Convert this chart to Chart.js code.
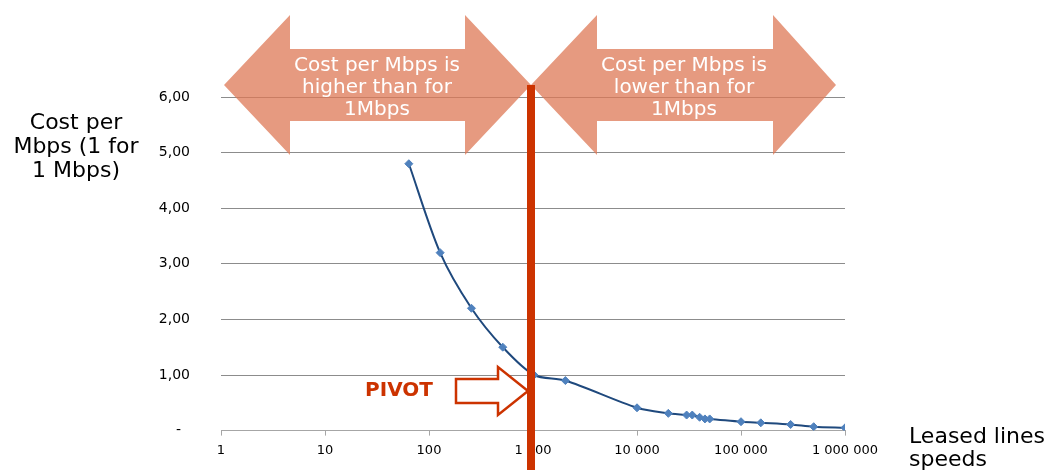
<!DOCTYPE html>
<html><head><meta charset="utf-8">
<script src="https://cdn.jsdelivr.net/npm/chart.js@4.4.1/dist/chart.umd.min.js"></script>
<style>html,body{margin:0;padding:0;background:#fff;} #wrap{position:relative;width:1050px;height:470px;}</style>
</head><body><div id="wrap"><canvas id="c"></canvas></div>
<script>
const speeds = [64, 128, 256, 512, 1024, 2048, 10000, 20000, 30000, 34000, 40000, 45000, 50000, 100000, 155000, 300000, 500000, 1000000];
const costs  = [4.80, 3.20, 2.20, 1.50, 1.00, 0.90, 0.41, 0.31, 0.28, 0.28, 0.24, 0.21, 0.21, 0.16, 0.14, 0.11, 0.07, 0.05];
const xTickValues = [1, 10, 100, 1000, 10000, 100000, 1000000];
const xTickLabels = ["1", "10", "100", "1 000", "10 000", "100 000", "1 000 000"];
const yTickValues = [0, 1, 2, 3, 4, 5, 6];
const yTickLabels = ["-  ", "1,00", "2,00", "3,00", "4,00", "5,00", "6,00"];
const yTitle = ["Cost per", "Mbps (1 for", "1 Mbps)"];
const xTitle = ["Leased lines", "speeds"];
const leftArrowText = ["Cost per Mbps is", "higher than for", "1Mbps"];
const rightArrowText = ["Cost per Mbps is", "lower than for", "1Mbps"];
const pivotSpeed = 1000;
const pivotLabel = "PIVOT";

const FONT = '"DejaVu Sans", Verdana, sans-serif';
const RED = '#CC3300';

function doubleArrow(ctx, x0, x1, yc, headL, headR, shaftHalf, headHalf) {
  ctx.beginPath();
  ctx.moveTo(x0, yc);
  ctx.lineTo(x0 + headL, yc - headHalf);
  ctx.lineTo(x0 + headL, yc - shaftHalf);
  ctx.lineTo(x1 - headR, yc - shaftHalf);
  ctx.lineTo(x1 - headR, yc - headHalf);
  ctx.lineTo(x1, yc);
  ctx.lineTo(x1 - headR, yc + headHalf);
  ctx.lineTo(x1 - headR, yc + shaftHalf);
  ctx.lineTo(x0 + headL, yc + shaftHalf);
  ctx.lineTo(x0 + headL, yc + headHalf);
  ctx.closePath();
}

const overlay = {
  id: 'overlay',
  beforeDatasetsDraw(chart) {
    const ctx = chart.ctx;
    const px = chart.scales.x.getPixelForValue(pivotSpeed) - 2;
    const yc = 85;
    ctx.save();
    ctx.fillStyle = 'rgba(222,120,85,0.75)';
    doubleArrow(ctx, px - 307, px, yc, 66, 66, 36, 70);
    ctx.fill();
    doubleArrow(ctx, px, px + 305, yc, 66, 63, 36, 70);
    ctx.fill();
    ctx.fillStyle = '#FFFFFF';
    ctx.font = '20px ' + FONT;
    ctx.textAlign = 'center';
    ctx.textBaseline = 'middle';
    const lx = px - 154, rx = px + 153;
    leftArrowText.forEach((t, i) => ctx.fillText(t, lx, 66 + i * 22));
    rightArrowText.forEach((t, i) => ctx.fillText(t, rx, 66 + i * 22));
    ctx.restore();
  },
  afterDatasetsDraw(chart) {
    const ctx = chart.ctx;
    const px = chart.scales.x.getPixelForValue(pivotSpeed) - 2;
    ctx.save();
    ctx.fillStyle = RED;
    ctx.fillRect(px - 4, 85, 8, chart.height - 85);
    // pivot block arrow
    const tipX = px - 3, tipY = 391;
    ctx.beginPath();
    ctx.moveTo(tipX - 72, tipY - 12);
    ctx.lineTo(tipX - 30, tipY - 12);
    ctx.lineTo(tipX - 30, tipY - 24);
    ctx.lineTo(tipX, tipY);
    ctx.lineTo(tipX - 30, tipY + 24);
    ctx.lineTo(tipX - 30, tipY + 12);
    ctx.lineTo(tipX - 72, tipY + 12);
    ctx.closePath();
    ctx.fillStyle = '#FFFFFF';
    ctx.fill();
    ctx.lineWidth = 2.5;
    ctx.strokeStyle = RED;
    ctx.stroke();
    ctx.fillStyle = RED;
    ctx.font = 'bold 20px ' + FONT;
    ctx.textAlign = 'center';
    ctx.textBaseline = 'middle';
    ctx.fillText(pivotLabel, tipX - 129, tipY);
    ctx.restore();
  },
  afterDraw(chart) {
    const ctx = chart.ctx;
    ctx.save();
    ctx.fillStyle = '#000000';
    ctx.font = '22px ' + FONT;
    ctx.textBaseline = 'middle';
    ctx.textAlign = 'center';
    yTitle.forEach((t, i) => ctx.fillText(t, 76, 123 + i * 24));
    ctx.textAlign = 'left';
    xTitle.forEach((t, i) => ctx.fillText(t, 909, 437 + i * 23));
    ctx.restore();
  }
};

new Chart(document.getElementById('c'), {
  type: 'line',
  data: {
    datasets: [{
      data: speeds.map((s, i) => ({ x: s, y: costs[i] })),
      borderColor: '#1F497D',
      borderWidth: 2,
      pointStyle: 'rectRot',
      pointRadius: 4,
      pointBackgroundColor: '#4F81BD',
      pointBorderColor: '#4F81BD',
      pointBorderWidth: 1,
      tension: 0.3,
      fill: false
    }]
  },
  options: {
    responsive: true,
    maintainAspectRatio: false,
    animation: false,
    layout: { padding: { top: 97, right: 205, bottom: 0, left: 0 } },
    plugins: { legend: { display: false }, tooltip: { enabled: false } },
    scales: {
      x: {
        type: 'logarithmic',
        min: 1, max: 1000000,
        afterBuildTicks(scale) { scale.ticks = xTickValues.map(v => ({ value: v })); },
        afterFit(scale) { scale.height = 39; },
        ticks: {
          autoSkip: false, maxRotation: 0, padding: 7, color: '#000000',
          font: { family: FONT, size: 13 },
          callback(v) { const i = xTickValues.indexOf(v); return i >= 0 ? xTickLabels[i] : ''; }
        },
        grid: { drawOnChartArea: false, drawTicks: true, tickLength: 5, color: '#A6A6A6' },
        border: { color: '#A6A6A6', width: 1 }
      },
      y: {
        type: 'linear',
        min: 0, max: 6,
        afterBuildTicks(scale) { scale.ticks = yTickValues.map(v => ({ value: v })); },
        afterFit(scale) { scale.width = 221; },
        ticks: {
          padding: 31, color: '#000000',
          font: { family: FONT, size: 14 },
          callback(v) { const i = yTickValues.indexOf(v); return i >= 0 ? yTickLabels[i] : ''; }
        },
        grid: { drawTicks: false, color: ctx => ctx.tick && ctx.tick.value === 0 ? '#A6A6A6' : '#8C8C8C' },
        border: { display: false }
      }
    }
  },
  plugins: [overlay]
});
</script>
</body></html>
